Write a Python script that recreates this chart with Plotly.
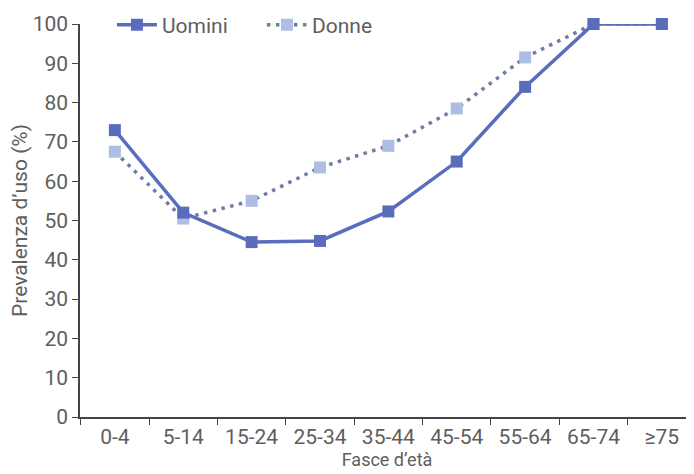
import plotly.graph_objects as go

categories = ["0-4", "5-14", "15-24", "25-34", "35-44", "45-54", "55-64", "65-74", "≥75"]
uomini = [73, 52, 44.5, 44.8, 52.3, 65, 84, 100, 100]
donne = [67.5, 50.5, 55, 63.5, 69, 78.5, 91.5, 100, 100]

font_family = "Roboto, sans-serif"
text_color = "#5e5e5e"

# The page body has an 8px default margin, so the figure is drawn 8px smaller
FIG_W, FIG_H = 686, 466

fig = go.Figure()
fig.add_trace(go.Scatter(
    x=categories, y=donne, name="Donne", mode="lines+markers",
    line=dict(color="#6f7ca6", width=3.5, dash="3.5px,5.5px"),
    marker=dict(symbol="square", size=12, color="#aebde3"),
    cliponaxis=False,
))
fig.add_trace(go.Scatter(
    x=categories, y=uomini, name="Uomini", mode="lines+markers",
    line=dict(color="#5a6dbd", width=3.5),
    marker=dict(symbol="square", size=12, color="#5a6dbd"),
    cliponaxis=False,
))

fig.update_layout(
    width=FIG_W, height=FIG_H,
    margin=dict(l=72, r=0, t=2, b=57, autoexpand=False),
    paper_bgcolor="white", plot_bgcolor="white",
    font=dict(family=font_family, size=22, color=text_color),
    showlegend=True,
    legend=dict(
        orientation="h", x=0.052, y=0.963, xanchor="left", yanchor="middle",
        traceorder="reversed", bgcolor="rgba(0,0,0,0)",
        font=dict(size=21, color=text_color), itemwidth=40,
        entrywidth=95, entrywidthmode="pixels",
    ),
    xaxis=dict(
        type="category", range=[-0.51, 8.47], automargin=False,
        showgrid=False, zeroline=False,
        showline=True, linecolor="#444444", linewidth=1.5,
        ticks="outside", tickson="boundaries", ticklen=6, tickcolor="#444444",
        tickfont=dict(size=21),
        title=dict(text="Fasce d’età", standoff=0, font=dict(size=18)),
    ),
    yaxis=dict(
        range=[0, 100], dtick=10, domain=[0, 0.9656], automargin=False,
        showgrid=False, zeroline=False,
        showline=True, linecolor="#444444", linewidth=1.5,
        ticks="outside", ticklen=6, tickcolor="#444444",
        tickfont=dict(size=21),
        title=dict(text="Prevalenza d’uso (%)", standoff=3, font=dict(size=21)),
    ),
)

fig.write_html("out.html")
